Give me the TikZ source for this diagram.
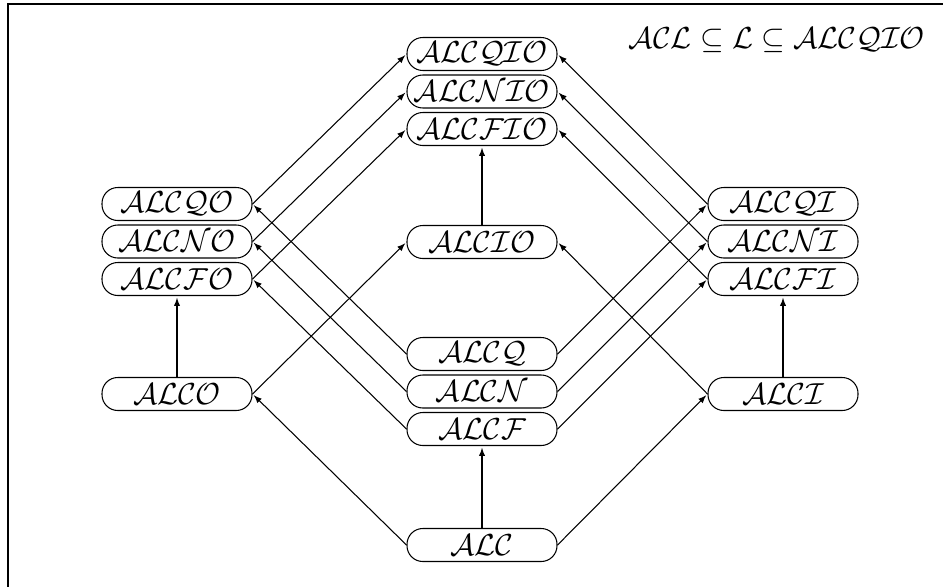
\documentclass[tikz,border=0pt]{standalone}
\begin{document}
\begin{tikzpicture}[->,>=latex,shorten >=1pt,line width=0.6pt]
    \tikzstyle{logic}=[draw,rounded corners=9pt,minimum width=3cm,minimum height=0.66cm,inner sep=0pt,font=\fontsize{19}{23}\selectfont]

    \useasboundingbox (0,0) rectangle (18.86,-11.72);
    \draw[-] (0.16,-0.08) rectangle (19.5,-12.5);

    \node[font=\fontsize{18}{22}\selectfont] (range) at (15.54,-0.8) {$\mathcal{ACL} \subseteq \mathcal{L} \subseteq \mathcal{ALCQIO}$};

    \node[logic] (ALC) at (9.64,-10.9) {$\mathcal{ALC}$};
    \node[logic] (ALCO) at (3.54,-7.88) {$\mathcal{ALCO}$};
    \node[logic] (ALCI) at (15.66,-7.88) {$\mathcal{ALCI}$};
    \node[logic] (ALCIO) at (9.64,-4.84) {$\mathcal{ALCIO}$};

    \foreach \q [count=\i from 0] in {Q,N,F} {
    \node[logic] (ALC\q) at (9.64,-7.08-0.75*\i) {$\mathcal{ALC\q}$};
    \node[logic] (ALC\q O) at (3.54,-4.08-0.75*\i) {$\mathcal{ALC\q O}$};
    \node[logic] (ALC\q I) at (15.66,-4.08-0.75*\i) {$\mathcal{ALC\q I}$};
    \node[logic] (ALC\q IO) at (9.64,-1.08-0.75*\i) {$\mathcal{ALC\q IO}$};
    }

    \draw (ALC) -- (ALCF);
    \draw (ALC.west) -- (ALCO.east);
    \draw (ALC.east) -- (ALCI.west);
    \draw (ALCO) -- (ALCFO);
    \draw (ALCI) -- (ALCFI);
    \draw (ALCO.east) -- (ALCIO.west);
    \draw (ALCI.west) -- (ALCIO.east);
    \draw (ALCIO) -- (ALCFIO);

    \foreach \q in {Q,N,F} {
    \draw (ALC\q.west) -- (ALC\q O.east);
    \draw (ALC\q.east) -- (ALC\q I.west);
    \draw (ALC\q O.east) -- (ALC\q IO.west);
    \draw (ALC\q I.west) -- (ALC\q IO.east);
    }
\end{tikzpicture}
\end{document}
